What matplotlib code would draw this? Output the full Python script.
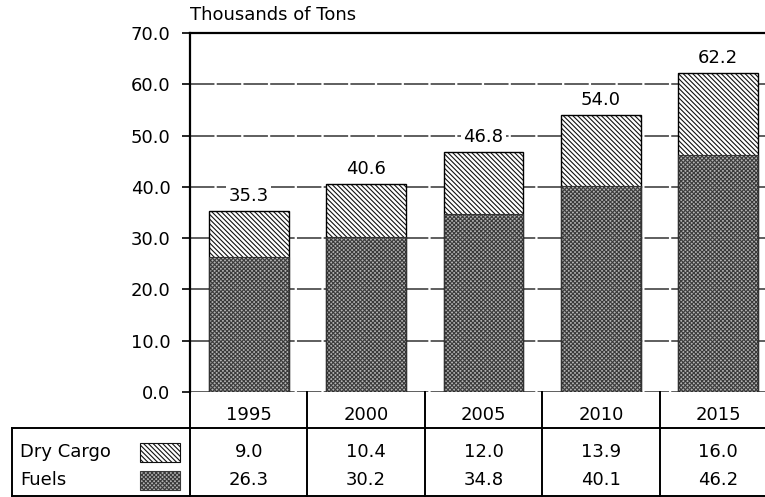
import numpy as np
import matplotlib
matplotlib.use("Agg")
import matplotlib.pyplot as plt
from matplotlib.lines import Line2D
from matplotlib.patches import Rectangle
from matplotlib.transforms import blended_transform_factory

years = ["1995", "2000", "2005", "2010", "2015"]
dry_cargo = [9.0, 10.4, 12.0, 13.9, 16.0]
fuels = [26.3, 30.2, 34.8, 40.1, 46.2]
series_names = ["Dry Cargo", "Fuels"]
y_ticks = [0, 10, 20, 30, 40, 50, 60, 70]
unit_title = "Thousands of Tons"

plt.rcParams["font.family"] = "DejaVu Sans"
plt.rcParams["hatch.linewidth"] = 0.8
FS = 13

W, H = 765, 497
fig = plt.figure(figsize=(W / 100, H / 100), dpi=100)
# plot area in pixels: left 190, top 33, bottom 392, five columns of ~117 px
ax_left, ax_top, ax_bot, col_w = 190, 33, 392, 117.4
ax = fig.add_axes([ax_left / W, 1 - ax_bot / H, 5 * col_w / W, (ax_bot - ax_top) / H])

x = np.arange(len(years))
fuel_style = dict(facecolor="#b2b2b2", edgecolor="#3a3a3a", hatch="x" * 8)
cargo_style = dict(facecolor="white", edgecolor="#111111", hatch="\\" * 7)
bw = 0.68

ax.bar(x, fuels, bw, zorder=2, linewidth=0, **fuel_style)
ax.bar(x, dry_cargo, bw, bottom=fuels, zorder=2, linewidth=0, **cargo_style)
# outlines on top of the hatching
totals = np.array(dry_cargo) + np.array(fuels)
ax.bar(x, totals, bw, facecolor="none", edgecolor="black", linewidth=1.0, zorder=3)
ax.bar(x, fuels, bw, facecolor="none", edgecolor="#333333", linewidth=0.8, zorder=3)

for xi, t in zip(x, totals):
    ax.annotate(f"{t:.1f}", (xi, t), xytext=(0, 11), textcoords="offset points",
                ha="center", va="center", fontsize=FS, zorder=4,
                bbox=dict(facecolor="white", edgecolor="none", pad=1.5))

ax.set_xlim(-0.5, len(years) - 0.5)
ax.set_ylim(0, 70)
ax.set_yticks(y_ticks)
ax.set_yticklabels([f"{v:.1f}" for v in y_ticks], fontsize=FS)
ax.set_xticks([])
ax.tick_params(axis="y", direction="out", length=6, width=1.2, pad=8)
ax.set_axisbelow(True)
ax.yaxis.grid(True, color="#333333", linestyle=(0, (16, 1.5)), linewidth=1.1)
for side in ["right", "bottom"]:
    ax.spines[side].set_visible(False)
ax.spines["left"].set_linewidth(1.6)
ax.spines["top"].set_linewidth(1.6)

ax.text(0, 1.025, unit_title, transform=ax.transAxes, ha="left", va="bottom",
        fontsize=FS)

# data table under the plot
def ay(py):
    # pixel row -> axes fraction
    return (ax_bot - py) / (ax_bot - ax_top)

fx = blended_transform_factory(fig.transFigure, ax.transAxes)
dx = ax.get_xaxis_transform()
row_year, row_sep, row_end = ay(415), ay(428), ay(496)
row_vals = [ay(452), ay(480)]

for b in np.arange(-0.5, len(years) + 0.5, 1):
    ax.add_line(Line2D([b, b], [0, row_end], transform=dx, color="black",
                       linewidth=1.4, clip_on=False))
for yy in (row_sep, row_end):
    ax.add_line(Line2D([12 / W, 1], [yy, yy], transform=fx, color="black",
                       linewidth=1.4, clip_on=False))
ax.add_line(Line2D([12 / W, 12 / W], [row_sep, row_end], transform=fx,
                   color="black", linewidth=1.4, clip_on=False))

for xi, yr in zip(x, years):
    ax.text(xi, row_year, yr, transform=dx, ha="center", va="center", fontsize=FS)
for vals, ry in zip([dry_cargo, fuels], row_vals):
    for xi, v in zip(x, vals):
        ax.text(xi, ry, f"{v:.1f}", transform=dx, ha="center", va="center",
                fontsize=FS)

styles = [cargo_style, fuel_style]
for name, ry, st in zip(series_names, row_vals, styles):
    ax.text(20 / W, ry, name, transform=fx, ha="left", va="center", fontsize=FS)
    sw = Rectangle((140 / W, ry - 10 / (ax_bot - ax_top)), 40 / W, 19 / (ax_bot - ax_top),
                   transform=fx, linewidth=0.8, clip_on=False, **st)
    ax.add_patch(sw)

fig.savefig("out.png", dpi=100)
